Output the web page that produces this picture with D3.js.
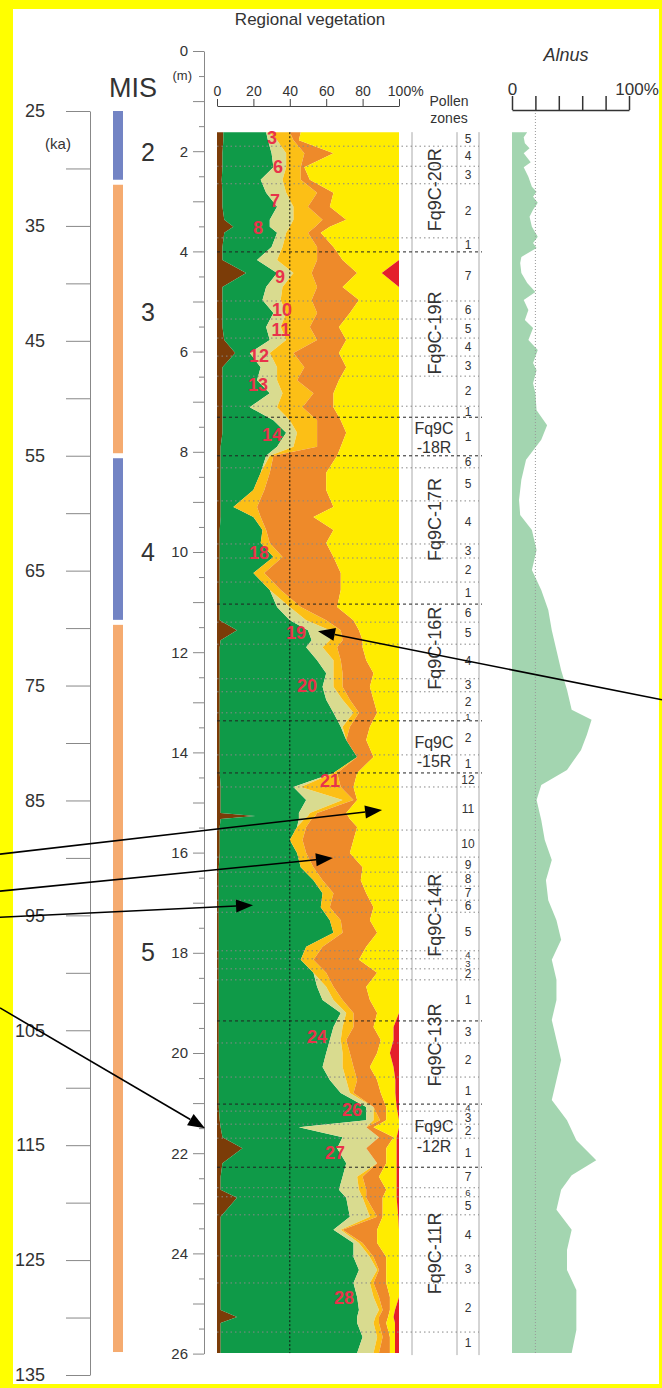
<!DOCTYPE html>
<html><head><meta charset="utf-8">
<script src="https://cdn.jsdelivr.net/npm/d3@7"></script>
<style>body{margin:0;background:#ffff00;} svg{display:block;font-family:"Liberation Sans",Arial,sans-serif;}</style>
</head><body><svg id="c" width="662" height="1388"></svg>
<script>
// ---------- DATA ----------
// Regional vegetation: sample depths (m) and cumulative right edges (%) of each band
const depthM = [1.62,1.78,2.04,2.32,2.57,2.83,3.11,3.37,3.51,3.63,3.91,4.17,4.43,4.71,4.97,5.23,5.51,5.77,6.03,6.31,6.57,6.83,7.11,7.37,7.62,7.90,8.08,8.42,8.76,9.10,9.30,9.56,9.82,10.10,10.42,10.76,11.10,11.36,11.56,11.76,11.90,12.16,12.42,12.69,12.95,13.21,13.49,13.75,14.09,14.41,14.69,14.95,15.21,15.27,15.33,15.49,15.75,16.01,16.29,16.55,16.81,17.09,17.35,17.60,17.88,18.14,18.40,18.68,18.94,19.20,19.48,19.74,20.00,20.28,20.54,20.80,21.08,21.34,21.48,21.68,21.90,22.20,22.47,22.73,22.89,23.27,23.53,23.79,24.07,24.33,24.59,24.87,25.13,25.27,25.39,25.67,25.99];
const edgeBrown  = [3.5,3.5,3,3,2.6,3,3,4,9,4,3,3,16,3,3,3,3,4,10,3,3,3,3,3,3,2,2,2,2,2,2,1.5,1.5,1.5,1.5,1.5,1.5,1.5,11,2,1.5,1.5,1.5,1.5,1.5,1.5,1.5,1.5,1.5,1.5,2,2,2,21,2,1.5,1.5,1.5,1,1,1,1,1,1,1,1,1,1,1,1,1,1,1,1,1,1,1,1.5,2,3,14,3,2,2,11,2,2,2,2,2,2,2,2,11,2,2,2];
const edgeGreen  = [27,28,30,31,24,27,33,29,29,33,30,22,33,27,25,31,27,29,18,24,22,29,18,31,38,33,27,24,20,9,20,25,24,31,20,29,33,40,50,52,49,55,60,58,60,64,68,71,77,64,42,49,45,45,45,44,40,44,46,53,58,57,62,64,49,46,53,55,58,68,64,62,60,58,62,68,82,82,45,69,66,71,69,67,71,73,64,75,75,78,75,77,78,77,77,80,77];
const edgeKhaki  = [29,33,38,38,36,38,42,42,40,38,36,33,42,36,35,38,35,38,29,33,33,36,33,40,44,42,29,24,20,9,20,25,24,31,20,29,40,49,62,62,58,64,64,64,69,75,69,71,77,64,46,69,51,50,48,44,40,44,46,53,58,57,62,64,49,46,53,60,64,71,69,68,69,69,71,73,86,86,82,89,82,88,77,78,80,84,68,78,84,88,84,86,89,87,86,88,86];
const edgeAmber  = [40,42,48,46,46,55,50,58,54,50,55,55,52,55,52,55,51,55,42,48,44,53,47,55,55,55,31,29,26,22,24,27,29,36,26,35,46,60,68,69,66,68,69,69,73,78,73,71,77,66,68,75,55,54,52,49,47,49,53,58,64,62,68,69,58,53,60,64,69,75,75,71,73,75,77,75,86,89.6,82,89,82,88,80,82,82,88,69,80,86,89,86,89,91,89,89,91,89];
const edgeOrange = [46,45,64,48,51,64,62,71,62,57,64,69,77,69,78,73,67,71,67,71,67,64,64,68,71,68,66,60,60,64,53,64,60,64,68,68,66,75,78,80,80,82,86,84,86,88,84,82,86,77,75,77,71,72,73,77,75,73,80,79,82,86,84,88,82,78,88,82,84,88,86,90,88,84,88,90,93,93,86,97,93,93,89,93,91,91,88,88,93,93,93,95,95,94,93,95,95];
const edgeYellow = [100,100,100,100,100,100,100,100,100,100,100,100,90.5,100,100,100,100,100,100,100,100,100,100,100,100,100,100,100,100,100,100,100,100,100,100,100,100,100,100,100,100,100,100,100,100,100,100,100,100,100,100,100,100,100,100,100,100,100,100,100,100,100,100,100,100,100,100,100,100,100,97,97,95,97,98,98,98.7,100,100,98.7,98.7,98.7,98.7,98.7,98.7,99.6,100,100,100,100,100,100,97.8,97,97.8,97.8,97.8];

// Alnus curve (%)
const alnusDepth = [1.62,1.72,1.84,1.94,2.04,2.22,2.32,2.51,2.71,2.81,2.91,3.03,3.17,3.31,3.51,3.71,3.83,3.93,4.11,4.23,4.43,4.63,4.81,4.97,5.17,5.37,5.53,5.77,5.97,6.23,6.37,6.63,6.83,7.17,7.47,7.76,8.16,8.56,8.96,9.26,9.56,9.96,10.36,10.76,11.16,11.56,11.96,12.36,12.75,13.15,13.35,13.65,13.95,14.35,14.65,14.95,15.35,15.75,16.15,16.55,16.95,17.35,17.74,18.14,18.54,18.94,19.34,19.74,20.14,20.54,20.94,21.34,21.74,22.14,22.44,22.73,23.13,23.53,23.93,24.33,24.73,25.13,25.53,25.99];
const alnusPct   = [13,10,11,15,10,16,10,14,17,21,18,22,18,15,17,22,18,21,8,7,8,13,20,10,14,11,18,14,22,18,21,18,20,21,30,25,12,8,6,7,17,21,17,25,31,34,38,42,47,51,68,64,59,47,25,21,25,28,34,29,31,38,42,34,38,38,34,38,42,38,34,47,55,72,51,42,38,51,47,47,55,55,55,51];

// Marine isotope stages (ka)
const misStage = [2,3,4,5];
const misStart = [25,31.2,55,69.5];
const misEnd   = [31.2,55,69.5,133];
const misLabelAge = [28.6,42.5,63.4,98.2];

// Pollen zones (depth, m)
const zoneNames = ["Fq9C-20R","Fq9C-19R","Fq9C-18R","Fq9C-17R","Fq9C-16R","Fq9C-15R","Fq9C-14R","Fq9C-13R","Fq9C-12R","Fq9C-11R"];
const zoneTops = [1.62,4.01,7.31,8.08,11.04,13.37,14.41,19.36,21.02,22.28];
const zoneLabelDepth = [2.77,5.63,7.72,9.35,11.92,13.99,17.25,19.84,21.66,24.0];
const coreBase = 25.99;
const subzoneBreaks = [[1.90,2.30,2.65,3.73],[4.99,5.35,5.73,6.09,6.49,7.09],[],[8.32,8.98,9.84,10.12,10.60],[11.40,11.84,12.53,12.79,13.21],[14.05],[14.69,15.55,16.09,16.39,16.67,16.95,17.19,17.96,18.12,18.32,18.54],[19.80,20.48],[21.16,21.42,21.70],[22.69,22.87,23.23,24.05,24.59,25.57]];

// Red event labels: text, % position, depth
const eventLabel = ["3","6","7","8","9","10","11","12","13","14","18","19","20","21","24","26","27","28"];
const eventPct   = [30.2,33.5,31.9,22.5,34.6,35.7,35.2,23.1,22.5,30.2,23.1,43.4,49.5,62.1,54.9,74.2,64.8,69.8];
const eventDepth = [1.74,2.32,2.99,3.53,4.51,5.16,5.56,6.09,6.67,7.66,10.02,11.62,12.67,14.57,19.68,21.14,22.0,24.89];

// Arrows: tip (% , depth) ; tail at page edge (side, depth)
const arrowTipPct   = [55.5,90.7,63.7,19.8,-6.6];
const arrowTipDepth = [11.58,15.15,16.11,17.05,21.5];
const arrowTailSide = ["right","left","left","left","left"];
const arrowTailDepth= [12.95,16.03,16.77,17.29,19.1];

const vegTicks = [0,20,40,60,80,100];
const ageTicks = d3.range(25,136,5);

// ---------- DRAW ----------
const W=662,H=1388;
const svg=d3.select("#c");
svg.append("rect").attr("width",W).attr("height",H).attr("fill","#ffff00");
svg.append("rect").attr("x",13).attr("y",9).attr("width",646).attr("height",1375).attr("fill","#fff");

const yDepth=d3.scaleLinear().domain([0,26]).range([51,1353.6]);
const yAge=d3.scaleLinear().domain([25,135]).range([111,1375]);
const xVeg=d3.scaleLinear().domain([0,100]).range([217,399]);
const xAln=d3.scaleLinear().domain([0,100]).range([512,629]);
const FF="Liberation Sans, Arial, sans-serif";
const txt="#333";
// Age axis
const ageAx=svg.append("g").attr("transform","translate(90,0)")
  .call(d3.axisLeft(yAge).tickValues(ageTicks).tickSize(24).tickSizeOuter(0).tickPadding(21)
  .tickFormat(d=>((d-25)%10===0)?d:""));
ageAx.selectAll("path,line").attr("stroke","#888");
ageAx.selectAll("text").attr("font-size",18).attr("fill",txt).attr("font-family",FF);
svg.append("text").attr("x",58).attr("y",143).attr("text-anchor","middle").attr("dominant-baseline","central").attr("font-size",15).attr("fill",txt).text("(ka)");

// MIS
svg.append("text").attr("x",133).attr("y",88).attr("text-anchor","middle").attr("dominant-baseline","central").attr("font-size",27).attr("fill",txt).text("MIS");
misStage.forEach((s,i)=>{
  const y0=yAge(misStart[i]), y1=yAge(misEnd[i]);
  svg.append("rect").attr("x",113).attr("width",10).attr("y",y0+(i?2.5:0)).attr("height",y1-y0-(i?2.5:0)-(i<3?2.5:0))
    .attr("fill",s%2===0?"#7384c4":"#f5ab70");
  svg.append("text").attr("x",148).attr("y",yAge(misLabelAge[i])).attr("text-anchor","middle").attr("dominant-baseline","central")
    .attr("font-size",25).attr("fill",txt).text(s);
});

// Depth axis
const dMaj=svg.append("g").attr("transform","translate(204,0)")
  .call(d3.axisLeft(yDepth).tickValues(d3.range(0,27,1)).tickSize(11).tickSizeOuter(0).tickPadding(5)
  .tickFormat(d=>d%2===0?d:""));
const dMin=svg.append("g").attr("transform","translate(204,0)")
  .call(d3.axisLeft(yDepth).tickValues(d3.range(0.5,26,1)).tickSize(5).tickSizeOuter(0).tickFormat(""));
dMin.select("path").remove();
svg.selectAll("g path, g line").attr("stroke","#888");
dMaj.selectAll("text").attr("font-size",15).attr("fill",txt).attr("font-family",FF);
svg.append("text").attr("x",192).attr("y",yDepth(0.5)-1).attr("text-anchor","end").attr("dominant-baseline","central").attr("font-size",13).attr("fill",txt).text("(m)");

// Vegetation stacked areas
const keys=["brown","trees","khaki","amber","orange","yellow","red"];
const colors={brown:"#7b3c08",trees:"#0f9a48",khaki:"#d9db8f",amber:"#fcbf16",orange:"#ee8a2a",yellow:"#ffec00",red:"#e41f2b"};
const rows=depthM.map((d,i)=>({depth:d,brown:edgeBrown[i],trees:edgeGreen[i]-edgeBrown[i],khaki:edgeKhaki[i]-edgeGreen[i],
  amber:edgeAmber[i]-edgeKhaki[i],orange:edgeOrange[i]-edgeAmber[i],yellow:edgeYellow[i]-edgeOrange[i],red:100-edgeYellow[i]}));
const stack=d3.stack().keys(keys)(rows);
const area=d3.area().y(d=>yDepth(d.data.depth)).x0(d=>xVeg(d[0])).x1(d=>xVeg(d[1]));
svg.append("g").selectAll("path").data(stack).join("path").attr("d",area).attr("fill",d=>colors[d.key]);

// Alnus
const alnRows=alnusDepth.map((d,i)=>({depth:d,pct:alnusPct[i]}));
svg.append("path").datum(alnRows).attr("fill","#a3d5b0")
  .attr("d",d3.area().y(d=>yDepth(d.depth)).x0(xAln(0)).x1(d=>xAln(d.pct)));
svg.append("line").attr("x1",xAln(20)).attr("x2",xAln(20)).attr("y1",110).attr("y2",yDepth(coreBase))
  .attr("stroke","#999").attr("stroke-dasharray","1,2");

// Pollen zone columns
[412,457,479].forEach(x=>svg.append("line").attr("x1",x).attr("x2",x).attr("y1",yDepth(zoneTops[0])).attr("y2",yDepth(coreBase)+2).attr("stroke","#aaa"));
subzoneBreaks.forEach((br,zi)=>{
  br.forEach(d=>svg.append("line").attr("x1",xVeg(0)).attr("x2",479).attr("y1",yDepth(d)).attr("y2",yDepth(d))
    .attr("stroke","#888").attr("stroke-dasharray","1.5,3"));
  const top=zoneTops[zi], bot=zi<zoneTops.length-1?zoneTops[zi+1]:coreBase;
  const edges=[top,...br,bot];
  for(let k=0;k<edges.length-1;k++){
    const h=yDepth(edges[k+1])-yDepth(edges[k]);
    svg.append("text").attr("x",468).attr("y",yDepth((edges[k]+edges[k+1])/2)).attr("text-anchor","middle").attr("dominant-baseline","central")
      .attr("font-size",h<11?9.5:12).attr("fill",txt).text(edges.length-1-k);
  }
  if(zi>0) svg.append("line").attr("x1",xVeg(0)).attr("x2",482).attr("y1",yDepth(top)).attr("y2",yDepth(top))
    .attr("stroke","#222").attr("stroke-dasharray","3,3");
  const yc=yDepth(zoneLabelDepth[zi]);
  if(yDepth(bot)-yDepth(top)<70){
    const parts=zoneNames[zi].split("-");
    svg.append("text").attr("x",434).attr("y",yc-9.5).attr("text-anchor","middle").attr("dominant-baseline","central").attr("font-size",16).attr("fill",txt).text(parts[0]);
    svg.append("text").attr("x",434).attr("y",yc+10).attr("text-anchor","middle").attr("dominant-baseline","central").attr("font-size",16).attr("fill",txt).text("-"+parts[1]);
  } else {
    svg.append("text").attr("transform",`translate(435,${yc}) rotate(-90)`).attr("text-anchor","middle").attr("dominant-baseline","central")
      .attr("font-size",18).attr("fill",txt).text(zoneNames[zi]);
  }
});

// 40% line
svg.append("line").attr("x1",xVeg(40)).attr("x2",xVeg(40)).attr("y1",yDepth(depthM[0])).attr("y2",yDepth(coreBase))
  .attr("stroke","#111").attr("stroke-dasharray","2,2");

// Top axes
const vAx=svg.append("g").attr("transform","translate(0,106)").call(d3.axisTop(xVeg).tickValues(vegTicks).tickSize(7).tickSizeOuter(0).tickPadding(3));
vAx.selectAll("path,line").attr("stroke","#444");
vAx.selectAll("text").attr("font-size",14).attr("fill",txt).attr("font-family",FF);
function pctLast(sel){
  sel.selectAll("text").filter(d=>d===100).each(function(){
    const t=d3.select(this); t.text("100"); const w=this.getComputedTextLength();
    t.attr("text-anchor","start").attr("x",-w/2); t.append("tspan").text("%");
  });
}
pctLast(vAx);
const aAx=svg.append("g").attr("transform","translate(0,110)").call(d3.axisTop(xAln).tickValues(vegTicks).tickSize(14).tickSizeOuter(0).tickPadding(1)
  .tickFormat(d=>(d===0||d===100)?d:""));
aAx.selectAll("path,line").attr("stroke","#333").attr("stroke-width",1.5);
aAx.selectAll("text").attr("font-size",17).attr("fill",txt).attr("font-family",FF);
pctLast(aAx);

svg.append("text").attr("x",310).attr("y",19).attr("text-anchor","middle").attr("dominant-baseline","central").attr("font-size",17).attr("fill",txt).text("Regional vegetation");
svg.append("text").attr("x",566).attr("y",55).attr("text-anchor","middle").attr("dominant-baseline","central").attr("font-size",18).attr("font-style","italic").attr("fill",txt).text("Alnus");
svg.append("text").attr("x",449).attr("y",101).attr("text-anchor","middle").attr("dominant-baseline","central").attr("font-size",14).attr("fill",txt).text("Pollen");
svg.append("text").attr("x",449).attr("y",118).attr("text-anchor","middle").attr("dominant-baseline","central").attr("font-size",14).attr("fill",txt).text("zones");

// Event labels
eventLabel.forEach((t,i)=>svg.append("text").attr("x",xVeg(eventPct[i])).attr("y",yDepth(eventDepth[i]))
  .attr("text-anchor","middle").attr("dominant-baseline","central").attr("font-size",18).attr("font-weight","bold")
  .attr("fill","#e8334a").text(t));

// Arrows
arrowTipPct.forEach((p,i)=>{
  const tx=xVeg(p), ty=yDepth(arrowTipDepth[i]);
  const sx=arrowTailSide[i]==="left"?0:W, sy=yDepth(arrowTailDepth[i]);
  const ang=Math.atan2(ty-sy,tx-sx), L=17, hw=6.5;
  const bx=tx-L*Math.cos(ang), by=ty-L*Math.sin(ang);
  svg.append("line").attr("x1",sx).attr("y1",sy).attr("x2",bx).attr("y2",by).attr("stroke","#000").attr("stroke-width",1.6);
  const px=-Math.sin(ang)*hw, py=Math.cos(ang)*hw;
  svg.append("path").attr("d",`M${tx},${ty}L${bx+px},${by+py}L${bx-px},${by-py}Z`).attr("fill","#000");
});
</script></body></html>
